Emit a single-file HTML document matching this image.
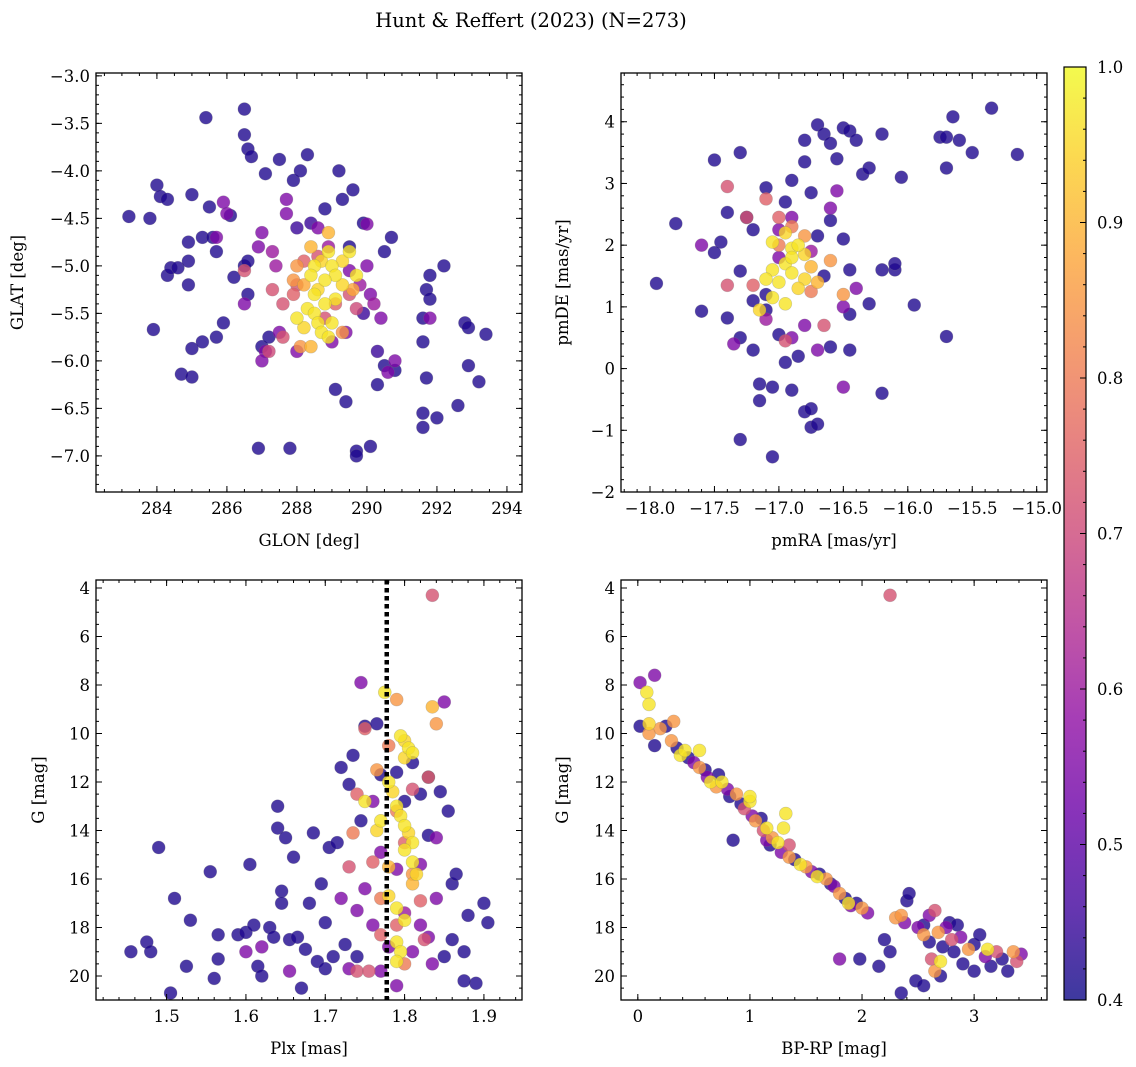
<!DOCTYPE html>
<html><head><meta charset="utf-8">
<style>
html,body{margin:0;padding:0;background:#fff;}
svg{display:block;font-family:"DejaVu Serif","Liberation Serif",serif;}
</style></head>
<body>
<svg id="fig" width="1136" height="1067" viewBox="0 0 1136 1067" xmlns="http://www.w3.org/2000/svg">
<text x="531" y="27" text-anchor="middle" font-size="19.5">Hunt &amp; Reffert (2023) (N=273)</text>
</svg>
<script>
// Panel 1: GLON vs GLAT
const p1x=[283.2,283.8,284.0,284.1,284.3,284.3,284.4,284.6,283.9,284.7,285.0,285.0,284.9,284.9,284.9,285.0,285.3,285.4,285.5,285.6,285.7,285.3,285.7,285.9,286.1,286.2,286.5,286.5,286.6,286.7,286.5,286.6,286.6,287.0,287.2,286.9,287.1,287.5,287.8,287.9,288.1,288.3,288.8,289.2,289.3,289.5,289.6,289.9,290.5,290.7,289.7,289.7,290.1,289.4,289.1,290.3,290.5,290.8,291.8,291.7,291.8,291.6,291.6,291.7,291.6,291.6,292.0,292.2,292.8,292.6,292.9,292.9,293.2,293.4,288.0,288.4,289.9,290.3,
285.9,286.0,285.7,286.5,286.9,287.0,287.1,287.0,287.5,287.7,287.7,290.0,290.1,290.4,290.8,290.6,291.8,289.4,288.0,290.0,289.0,288.6,289.5,287.3,289.8,290.2,287.4,288.9,
286.5,287.3,287.6,287.6,288.0,288.8,289.5,288.6,287.9,288.2,289.1,287.2,289.7,288.0,289.3,
288.4,288.7,288.9,288.5,289.0,289.1,289.3,289.5,289.7,288.8,288.6,288.3,288.5,288.6,288.2,288.7,288.9,288.4,288.1,289.1,289.3,288.2,288.0,288.8,289.0,288.4,289.6,287.9,288.9,288.5];
const p1y=[-4.48,-4.5,-4.15,-4.27,-4.3,-5.1,-5.02,-5.02,-5.67,-6.14,-6.17,-5.87,-5.2,-4.95,-4.75,-4.25,-4.7,-3.44,-4.38,-4.7,-4.85,-5.8,-5.75,-5.6,-4.47,-5.12,-3.35,-3.62,-3.77,-3.85,-5.0,-4.95,-5.3,-5.85,-5.75,-6.92,-4.03,-3.88,-6.92,-4.1,-4.0,-3.83,-4.4,-4.0,-4.3,-4.8,-4.2,-4.55,-4.85,-4.7,-6.95,-7.0,-6.9,-6.43,-6.3,-6.25,-6.05,-6.1,-5.1,-5.25,-5.35,-5.55,-5.8,-6.18,-6.55,-6.7,-6.6,-5.0,-5.6,-6.47,-5.65,-6.05,-6.22,-5.72,-4.6,-4.55,-5.5,-5.9,
-4.33,-4.45,-4.7,-5.4,-4.8,-4.65,-5.9,-6.0,-5.7,-4.3,-4.45,-4.56,-5.3,-5.55,-6.0,-6.12,-5.55,-5.7,-5.9,-5.0,-5.8,-4.6,-5.05,-4.85,-5.2,-5.4,-5.0,-4.8,
-5.05,-5.25,-5.4,-5.75,-5.2,-5.55,-5.3,-4.9,-5.3,-4.95,-5.4,-5.9,-5.45,-5.0,-5.7,
-4.8,-4.95,-4.65,-5.0,-5.0,-5.1,-4.95,-4.85,-5.1,-5.15,-5.25,-5.45,-5.5,-5.6,-5.65,-5.7,-5.75,-5.85,-5.85,-5.35,-5.2,-5.2,-5.55,-5.4,-5.6,-5.1,-5.25,-5.15,-4.85,-5.3];
const p1c=[0.42,0.42,0.42,0.42,0.42,0.42,0.42,0.42,0.42,0.42,0.42,0.42,0.42,0.42,0.42,0.42,0.42,0.42,0.42,0.42,0.42,0.42,0.42,0.42,0.42,0.42,0.42,0.42,0.42,0.42,0.42,0.42,0.42,0.42,0.42,0.42,0.42,0.42,0.42,0.42,0.42,0.42,0.42,0.42,0.42,0.42,0.42,0.42,0.42,0.42,0.42,0.42,0.42,0.42,0.42,0.42,0.42,0.42,0.42,0.42,0.42,0.42,0.42,0.42,0.42,0.42,0.42,0.42,0.42,0.42,0.42,0.42,0.42,0.42,0.45,0.45,0.45,0.45,
0.55,0.55,0.55,0.55,0.55,0.55,0.55,0.55,0.55,0.55,0.55,0.55,0.55,0.55,0.55,0.55,0.55,0.55,0.55,0.55,0.55,0.55,0.55,0.6,0.6,0.6,0.6,0.6,
0.72,0.72,0.72,0.72,0.72,0.72,0.72,0.72,0.75,0.75,0.75,0.7,0.7,0.85,0.85,
0.9,0.95,0.9,0.97,0.97,0.97,0.95,0.97,0.97,0.97,0.95,0.97,0.97,0.97,0.95,0.97,0.97,0.9,0.85,0.97,0.95,0.88,0.97,0.97,0.97,0.97,0.88,0.85,0.97,0.97];

// Panel 2: pmRA vs pmDE
const p2x=[-17.95,-17.8,-17.6,-17.5,-17.4,-17.45,-17.5,-17.4,-17.3,-17.25,-17.2,-17.3,-17.3,-17.3,-17.2,-17.1,-17.15,-17.15,-17.1,-17.05,-17.05,-17.0,-16.95,-16.9,-16.8,-16.8,-16.75,-16.7,-16.65,-16.6,-16.55,-16.5,-16.45,-16.4,-16.35,-16.3,-16.2,-16.05,-15.75,-15.7,-15.7,-15.6,-15.5,-15.35,-15.65,-15.15,-15.7,-15.95,-16.1,-16.1,-16.2,-16.2,-16.3,-16.45,-16.45,-16.5,-16.45,-16.6,-16.8,-16.75,-16.75,-16.7,-16.85,-16.9,-16.95,-16.6,-16.7,-17.1,-17.2,-16.65,
-17.6,-17.0,-16.6,-16.55,-16.9,-17.35,-16.4,-16.8,-17.0,-16.9,-16.5,-16.7,-16.5,-16.75,-17.1,
-17.4,-17.25,-17.1,-17.0,-16.9,-17.0,-16.8,-16.6,-16.5,-17.2,-17.4,-16.75,-16.65,-16.95,
-17.05,-16.95,-16.9,-16.85,-16.8,-16.95,-17.05,-16.9,-16.8,-17.0,-17.1,-16.85,-16.7,-17.05,-16.95,-17.15,-16.75,-16.9];
const p2y=[1.38,2.35,0.93,3.38,2.53,2.05,1.88,0.82,3.5,2.45,2.25,1.58,0.5,-1.15,0.3,2.93,-0.25,-0.52,0.95,-0.3,-1.43,0.55,2.7,3.05,3.7,3.35,2.85,3.95,3.8,3.65,3.4,3.9,3.85,3.7,3.15,3.25,3.8,3.1,3.75,3.75,3.25,3.7,3.5,4.22,4.08,3.47,0.52,1.03,1.6,1.7,1.6,-0.4,1.05,0.88,1.6,2.1,0.3,0.35,-0.7,-0.65,-0.95,-0.9,0.2,-0.35,0.1,2.4,2.15,1.2,1.1,1.5,
2.0,2.25,2.6,2.88,0.5,0.4,1.3,0.7,1.8,2.45,-0.3,0.3,1.0,1.9,0.8,
2.95,2.45,2.75,2.45,2.3,2.0,2.15,1.75,1.2,1.35,1.35,1.25,0.7,0.45,
2.05,2.2,1.95,2.0,1.85,1.7,1.6,1.55,1.45,1.4,1.45,1.3,1.4,1.15,1.05,0.95,1.65,1.8];
const p2c=[0.42,0.42,0.42,0.42,0.42,0.42,0.42,0.42,0.42,0.42,0.42,0.42,0.42,0.42,0.42,0.42,0.42,0.42,0.42,0.42,0.42,0.42,0.42,0.42,0.42,0.42,0.42,0.42,0.42,0.42,0.42,0.42,0.42,0.42,0.42,0.42,0.42,0.42,0.42,0.42,0.42,0.42,0.42,0.42,0.42,0.42,0.42,0.42,0.42,0.42,0.42,0.42,0.42,0.42,0.42,0.42,0.42,0.42,0.42,0.42,0.42,0.42,0.42,0.42,0.42,0.42,0.42,0.42,0.42,0.42,
0.55,0.55,0.55,0.55,0.55,0.55,0.55,0.55,0.55,0.55,0.55,0.55,0.55,0.6,0.6,
0.72,0.72,0.75,0.75,0.8,0.8,0.85,0.85,0.85,0.75,0.72,0.8,0.72,0.72,
0.97,0.95,0.97,0.97,0.95,0.97,0.97,0.97,0.95,0.97,0.97,0.95,0.9,0.97,0.97,0.95,0.9,0.97];

// Panel 3: Plx vs G
const p3x=[1.455,1.475,1.48,1.49,1.505,1.51,1.525,1.53,1.555,1.56,1.565,1.565,1.59,1.6,1.605,1.61,1.615,1.62,1.63,1.635,1.64,1.64,1.645,1.645,1.65,1.655,1.66,1.665,1.67,1.675,1.68,1.685,1.69,1.695,1.7,1.7,1.705,1.71,1.715,1.72,1.725,1.73,1.735,1.74,1.745,1.75,1.765,1.77,1.79,1.8,1.81,1.82,1.83,1.83,1.845,1.855,1.86,1.865,1.875,1.88,1.89,1.9,1.905,1.875,1.86,1.85,
1.655,1.72,1.74,1.76,1.75,1.78,1.82,1.83,1.84,1.835,1.81,1.77,1.79,1.82,1.84,1.85,1.76,1.745,1.77,1.73,1.6,1.62,1.79,1.8,
1.835,1.75,1.74,1.735,1.73,1.76,1.765,1.78,1.79,1.8,1.81,1.82,1.825,1.8,1.83,1.84,1.79,1.81,1.79,1.77,1.77,1.74,1.755,
1.775,1.835,1.795,1.8,1.805,1.81,1.8,1.75,1.78,1.785,1.79,1.795,1.8,1.805,1.81,1.8,1.81,1.815,1.81,1.78,1.79,1.8,1.79,1.795,1.79,1.77,1.765,1.78];
const p3y=[19.0,18.6,19.0,14.7,20.7,16.8,19.6,17.7,15.7,20.1,19.3,18.3,18.3,18.2,15.4,17.9,19.6,20.0,18.0,18.4,13.0,13.9,16.5,17.0,14.3,18.5,15.1,18.4,20.5,18.9,17.0,14.1,19.4,16.2,17.8,19.7,14.7,19.2,14.5,11.4,18.7,12.1,10.9,19.2,13.6,9.7,9.6,11.7,11.6,12.8,11.2,12.5,11.8,14.2,12.4,13.2,16.2,15.8,19.0,17.5,20.3,17.0,17.8,20.2,18.5,19.2,
19.8,16.8,17.3,17.9,16.4,18.8,17.9,18.4,16.8,19.5,19.0,14.9,15.6,15.4,14.3,8.7,12.8,7.9,19.8,19.7,19.0,18.8,20.4,17.4,
4.3,9.8,12.5,14.1,15.5,15.3,11.5,10.5,13.2,14.5,15.8,16.9,18.5,19.5,11.8,9.6,8.6,12.3,17.9,18.3,16.8,19.8,19.8,
8.3,8.9,10.1,10.3,10.6,10.8,11.0,12.8,12.0,12.4,13.0,13.4,13.8,14.1,14.5,14.8,15.3,15.8,16.2,16.7,17.2,17.7,18.6,19.0,19.4,13.6,14.0,15.5];
const p3c=[0.42,0.42,0.42,0.42,0.42,0.42,0.42,0.42,0.42,0.42,0.42,0.42,0.42,0.42,0.42,0.42,0.42,0.42,0.42,0.42,0.42,0.42,0.42,0.42,0.42,0.42,0.42,0.42,0.42,0.42,0.42,0.42,0.42,0.42,0.42,0.42,0.42,0.42,0.42,0.42,0.42,0.42,0.42,0.42,0.42,0.42,0.42,0.42,0.42,0.42,0.42,0.42,0.42,0.42,0.42,0.42,0.42,0.42,0.42,0.42,0.42,0.42,0.42,0.42,0.42,0.42,
0.55,0.55,0.55,0.55,0.55,0.55,0.55,0.55,0.55,0.55,0.55,0.55,0.55,0.55,0.55,0.55,0.55,0.55,0.55,0.55,0.55,0.55,0.55,0.6,
0.72,0.75,0.75,0.8,0.72,0.75,0.85,0.8,0.8,0.75,0.85,0.75,0.72,0.8,0.75,0.85,0.85,0.72,0.75,0.75,0.8,0.72,0.72,
0.97,0.9,0.97,0.95,0.97,0.97,0.95,0.97,0.97,0.95,0.97,0.97,0.97,0.95,0.97,0.97,0.97,0.95,0.9,0.95,0.97,0.97,0.97,0.97,0.97,0.97,0.95,0.9];

// Panel 4: BP-RP vs G
const p4x=[0.02,0.08,0.1,0.15,0.02,0.1,0.1,0.15,0.2,0.25,0.3,0.32,0.35,0.38,0.42,0.45,0.5,0.55,0.55,0.6,0.62,0.65,0.7,0.72,0.75,0.8,0.82,0.85,0.88,0.92,0.95,1.0,1.0,1.02,1.05,1.1,1.12,1.15,1.15,1.18,1.2,1.25,1.28,1.3,1.32,1.35,1.35,1.4,1.45,1.5,1.55,1.6,1.62,1.68,1.72,1.75,1.8,1.85,1.88,1.9,1.95,2.0,2.05,1.8,1.98,2.15,2.2,2.25,2.25,2.3,2.35,2.38,2.4,2.42,2.35,2.48,2.5,2.55,2.55,2.6,2.6,2.62,2.65,2.68,2.55,2.7,2.72,2.75,2.78,2.8,2.82,2.85,2.88,2.9,2.95,3.0,3.0,3.05,3.1,3.12,3.15,3.2,3.25,3.3,3.35,3.42,3.38,2.65,2.7];
const p4y=[7.9,8.3,8.8,7.6,9.7,9.6,10.0,10.5,9.8,9.7,10.3,9.5,10.6,10.9,10.7,11.0,11.2,10.7,11.4,11.5,11.8,12.0,12.2,11.7,12.0,12.3,12.6,14.4,12.5,12.9,13.1,12.8,12.6,13.4,13.6,13.5,14.0,13.9,14.4,14.6,14.3,14.5,14.9,13.9,13.3,15.1,14.6,15.2,15.4,15.5,15.7,15.9,15.8,16.0,16.2,16.3,16.6,16.8,17.0,17.1,17.0,17.2,17.4,19.3,19.3,19.6,18.5,19.0,4.3,17.6,17.5,17.8,16.9,16.6,20.7,20.2,18.0,17.9,18.3,17.5,18.6,19.3,17.3,18.2,20.4,19.4,18.8,18.0,17.8,18.5,19.0,17.9,18.4,19.5,18.9,18.7,19.8,18.3,19.2,18.9,19.6,19.0,19.3,19.8,19.0,19.1,19.4,19.8,20.0];
const p4c=[0.55,0.97,0.97,0.55,0.42,0.95,0.85,0.42,0.85,0.42,0.85,0.85,0.42,0.97,0.97,0.42,0.55,0.97,0.85,0.42,0.55,0.97,0.85,0.42,0.97,0.55,0.42,0.42,0.85,0.42,0.72,0.97,0.97,0.55,0.85,0.42,0.72,0.97,0.55,0.42,0.85,0.97,0.55,0.97,0.97,0.85,0.72,0.42,0.97,0.85,0.55,0.97,0.42,0.85,0.42,0.55,0.85,0.42,0.97,0.55,0.42,0.85,0.55,0.55,0.42,0.42,0.42,0.42,0.72,0.85,0.85,0.55,0.42,0.42,0.42,0.42,0.55,0.42,0.85,0.55,0.42,0.72,0.72,0.85,0.42,0.97,0.42,0.55,0.42,0.72,0.42,0.42,0.55,0.42,0.85,0.42,0.42,0.42,0.55,0.97,0.42,0.72,0.42,0.42,0.85,0.55,0.72,0.85,0.42];

// Colorbar ticks
const cbTicks=[0.4,0.5,0.6,0.7,0.8,0.9,1.0];
const p1xTicks=[284,286,288,290,292,294];
const p1yTicks=[-3.0,-3.5,-4.0,-4.5,-5.0,-5.5,-6.0,-6.5,-7.0];
const p2xTicks=[-18.0,-17.5,-17.0,-16.5,-16.0,-15.5,-15.0];
const p2yTicks=[-2,-1,0,1,2,3,4];
const p3xTicks=[1.5,1.6,1.7,1.8,1.9];
const gTicks=[4,6,8,10,12,14,16,18,20];
const p4xTicks=[0,1,2,3];
const plxRef=[1.7775];

const NS="http://www.w3.org/2000/svg";
const svg=document.getElementById('fig');
function mk(tag,attrs,parent){const e=document.createElementNS(NS,tag);for(const k in attrs)e.setAttribute(k,attrs[k]);(parent||svg).appendChild(e);return e;}
const stops=['#0d0887','#41049d','#6a00a8','#8f0da4','#b12a90','#cc4778','#e16462','#f2844b','#fca636','#fcce25','#f0f921'];
function hx(h){return [parseInt(h.substr(1,2),16),parseInt(h.substr(3,2),16),parseInt(h.substr(5,2),16)];}
function plasma(p){let t=Math.max(0,Math.min(1,(p-0.4)/0.6))*10;const i=Math.min(9,Math.floor(t)),f=t-i;const a=hx(stops[i]),b=hx(stops[i+1]);return 'rgb('+a.map((v,k)=>Math.round(v+(b[k]-v)*f)).join(',')+')';}
function fmt(v,d){const s=Math.abs(v).toFixed(d);return (v<0?'\u2212':'')+s;}

function panel(name,box,xd,yd,xs,ys,xc,xTicks,yTicks,xMinor,yMinor,xdec,ydec,xl,yl,ylx){
  const [L,T,R,B]=box;
  const X=v=>L+(v-xd[0])/(xd[1]-xd[0])*(R-L);
  const Y=v=>T+(v-yd[0])/(yd[1]-yd[0])*(B-T);
  const g=mk('g',{});
  
  
  const cid='clip-'+name;
  const cp=mk('clipPath',{id:cid},g);mk('rect',{x:L,y:T,width:R-L,height:B-T},cp);
  const pts=mk('g',{'clip-path':'url(#'+cid+')'},g);
  
  
  const idx=xs.map((_,i)=>i).sort((a,b)=>xc[a]-xc[b]);
  idx.forEach(i=>{
    const c=mk('circle',{cx:X(xs[i]),cy:Y(ys[i]),r:6.5,fill:plasma(xc[i]),'fill-opacity':0.8,stroke:'#777','stroke-opacity':0.35,'stroke-width':0.6},pts);
    
    
  });
  const ax=mk('g',{stroke:'#000','stroke-width':1},g);
  const xmin=Math.min(...xd),xmax=Math.max(...xd),ymin=Math.min(...yd),ymax=Math.max(...yd);
  for(let v=Math.ceil(xmin/xMinor)*xMinor;v<=xmax;v+=xMinor){const x=X(v);mk('line',{x1:x,x2:x,y1:B,y2:B-3},ax);mk('line',{x1:x,x2:x,y1:T,y2:T+3},ax);}
  for(let v=Math.ceil(ymin/yMinor)*yMinor;v<=ymax;v+=yMinor){const y=Y(v);mk('line',{x1:L,x2:L+3,y1:y,y2:y},ax);mk('line',{x1:R,x2:R-3,y1:y,y2:y},ax);}
  xTicks.forEach(v=>{const x=X(v);mk('line',{x1:x,x2:x,y1:B,y2:B-6},ax);mk('line',{x1:x,x2:x,y1:T,y2:T+6},ax);
    const t=mk('text',{x:x,y:B+22,'text-anchor':'middle','font-size':16.5,fill:'#000',stroke:'none'},g);t.textContent=fmt(v,xdec);
    });
  yTicks.forEach(v=>{const y=Y(v);mk('line',{x1:L,x2:L+6,y1:y,y2:y},ax);mk('line',{x1:R,x2:R-6,y1:y,y2:y},ax);
    const t=mk('text',{x:L-6,y:y+6,'text-anchor':'end','font-size':16.5,fill:'#000',stroke:'none'},g);t.textContent=fmt(v,ydec);
    });
  const fr=mk('rect',{x:L,y:T,width:R-L,height:B-T,fill:'none',stroke:'#000','stroke-width':1.3},g);
  
  const xt=mk('text',{x:(L+R)/2,y:B+54,'text-anchor':'middle','font-size':16.5},g);xt.textContent=xl;
  
  const yt=mk('text',{x:ylx,y:(T+B)/2,'text-anchor':'middle','font-size':16.5,transform:'rotate(-90 '+ylx+' '+(T+B)/2+')'},g);yt.textContent=yl;
  
  return {X,Y,g};
}
panel('sky',[96,73,522,492],[282.26,294.43],[-2.97,-7.38],p1x,p1y,p1c,p1xTicks,p1yTicks,0.5,0.1,0,1,'GLON [deg]','GLAT [deg]',23);
panel('proper-motion',[621,73,1047,492],[-18.225,-14.92],[4.79,-2.0],p2x,p2y,p2c,p2xTicks,p2yTicks,0.1,0.2,1,0,'pmRA [mas/yr]','pmDE [mas/yr]',568);
const P3=panel('parallax',[96,580,522,1000],[1.411,1.948],[3.67,20.99],p3x,p3y,p3c,p3xTicks,gTicks,0.02,0.5,1,0,'Plx [mas]','G [mag]',44);
panel('cmd',[621,580,1047,1000],[-0.15,3.65],[3.67,20.99],p4x,p4y,p4c,p4xTicks,gTicks,0.2,0.5,0,0,'BP-RP [mag]','G [mag]',568);
plxRef.forEach(v=>{
  const l=mk('line',{x1:P3.X(v),x2:P3.X(v),y1:580,y2:1000,stroke:'#000','stroke-width':4.5,'stroke-dasharray':'4.5 3.5'});
  
  
});
// colorbar
const cb=mk('g',{});


const defs=mk('defs',{},cb);
const lg=mk('linearGradient',{id:'cbg',x1:0,y1:1,x2:0,y2:0},defs);
for(let i=0;i<=20;i++){const p=0.4+0.6*i/20;mk('stop',{offset:i/20,'stop-color':plasma(p),'stop-opacity':0.8},lg);}
const cT=67,cB=1000,cL=1064,cR=1086;
const CY=v=>cB-(v-0.4)/0.6*(cB-cT);
mk('rect',{x:cL,y:cT,width:cR-cL,height:cB-cT,fill:'url(#cbg)',stroke:'#000','stroke-width':1.2},cb);
for(let v=0.4;v<=1.0001;v+=0.02){const y=CY(v);mk('line',{x1:cR,x2:cR-3,y1:y,y2:y,stroke:'#000'},cb);}
cbTicks.forEach(v=>{const y=CY(v);mk('line',{x1:cR,x2:cR-6,y1:y,y2:y,stroke:'#000'},cb);
  const t=mk('text',{x:cR+11,y:y+6,'font-size':16.5},cb);t.textContent=v.toFixed(1);
  });
</script>
</body></html>
